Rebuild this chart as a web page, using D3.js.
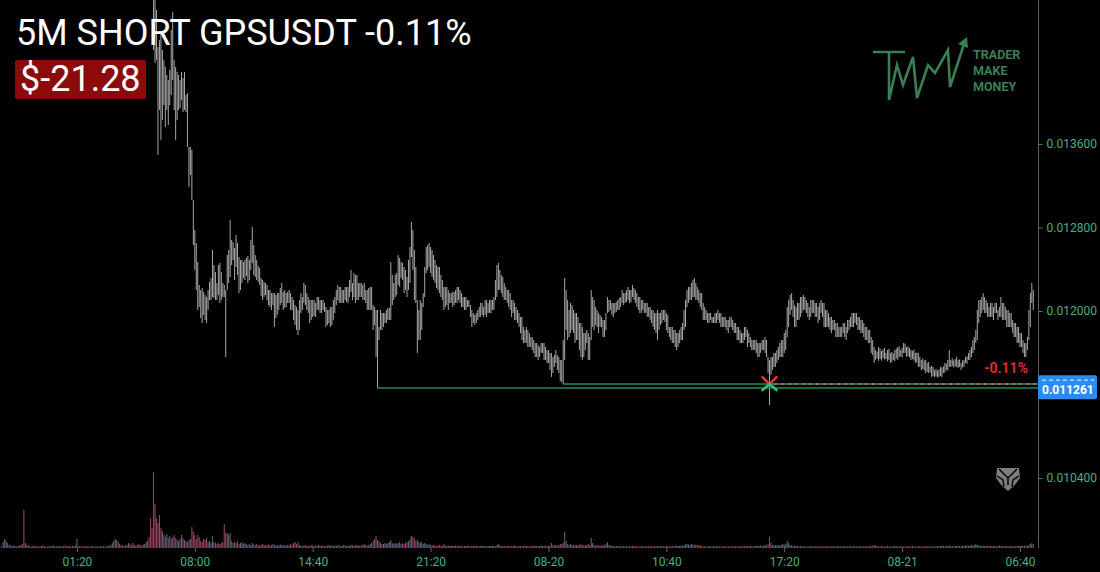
<!DOCTYPE html>
<html>
<head>
<meta charset="utf-8">
<script src="https://cdn.jsdelivr.net/npm/d3@7"></script>
<style>
  html, body { margin: 0; padding: 0; background: #000; overflow: hidden; }
  svg { display: block; font-family: Roboto, "Open Sans", sans-serif; }
</style>
</head>
<body>
<svg id="chart" width="1100" height="572"></svg>
<script>
const W = 1100, H = 572;
const PLOT_RIGHT = 1038;
const VOL_BASE = 548;

const titleText = "5M SHORT GPSUSDT -0.11%";
const pnlText = "$-21.28";
const pnlPctText = "-0.11%";

// right price axis
const priceTicks = [0.0104, 0.012, 0.0128, 0.0136];
// time axis: bar index of each label (5 minute bars)
const timeTicks = [51, 131, 211, 291, 371, 451, 531, 611, 691];
const timeLabels = ["01:20", "08:00", "14:40", "21:20", "08-20", "10:40", "17:20", "08-21", "06:40"];

// price values are in 1e-6 USDT, bars before PRICE_START sit above the visible range
const PRICE_UNIT = 1e-6;
const PRICE_START = 103;

const high = [
  15267, 15075, 14884, 14529, 14596, 14663, 14500, 14405, 14338, 14261, // 103
  14213, 14309, 14692, 14864, 14405, 14338, 14290, 14261, 14213, 14290, // 113
  14232, 14290, 14069, 14088, 13571, 13571, 13542, 13063, 12776, 12651, // 123
  12469, 12249, 12201, 12220, 12182, 12153, 12134, 12201, 12278, 12316, // 133
  12584, 12441, 12374, 12268, 12441, 12460, 12374, 12268, 12249, 12201, // 143
  12536, 12584, 12872, 12680, 12661, 12604, 12728, 12651, 12517, 12489, // 153
  12489, 12469, 12489, 12508, 12527, 12489, 12680, 12805, 12632, 12536, // 163
  12489, 12431, 12412, 12316, 12297, 12278, 12268, 12249, 12201, 12201, // 173
  12172, 12172, 12172, 12153, 12172, 12172, 12220, 12268, 12182, 12201, // 183
  12172, 12182, 12201, 12172, 12134, 12105, 12057, 12038, 12010, 12105, // 193
  12172, 12134, 12268, 12249, 12172, 12134, 12105, 12105, 12105, 12105, // 203
  12077, 12134, 12134, 12105, 12105, 12105, 12077, 12038, 12010, 12010, // 213
  12038, 12038, 12105, 12134, 12201, 12249, 12230, 12230, 12201, 12201, // 223
  12230, 12230, 12230, 12297, 12393, 12268, 12364, 12345, 12345, 12268, // 233
  12268, 12268, 12249, 12268, 12201, 12201, 12220, 12230, 12230, 12057, // 243
  12038, 12010, 12010, 11847, 12010, 11981, 11981, 11981, 12010, 12029, // 253
  12029, 12469, 12345, 12268, 12345, 12364, 12536, 12508, 12469, 12460, // 263
  12422, 12393, 12326, 12489, 12613, 12853, 12776, 12584, 12422, 12105, // 273
  12010, 12105, 12077, 12172, 12422, 12613, 12632, 12651, 12613, 12584, // 283
  12536, 12489, 12441, 12422, 12422, 12345, 12297, 12230, 12230, 12230, // 293
  12201, 12172, 12172, 12182, 12182, 12201, 12230, 12230, 12201, 12172, // 303
  12134, 12134, 12134, 12105, 12105, 12057, 12010, 11981, 11962, 11981, // 313
  12010, 12038, 12077, 12077, 12038, 12105, 12105, 12077, 12105, 12105, // 323
  12105, 12134, 12297, 12441, 12460, 12393, 12345, 12326, 12268, 12230, // 333
  12201, 12201, 12172, 12105, 12105, 12077, 12038, 12010, 11981, 11943, // 343
  11943, 11847, 11818, 11847, 11818, 11789, 11751, 11751, 11722, 11693, // 353
  11693, 11674, 11655, 11693, 11693, 11693, 11655, 11626, 11626, 11598, // 363
  11598, 11559, 11578, 11626, 11578, 11559, 11531, 11531, 11722, 12316, // 373
  12201, 12105, 12010, 12077, 12057, 12010, 11981, 11981, 11943, 11885, // 383
  11885, 11847, 11789, 11789, 11818, 11789, 11751, 12201, 12134, 12105, // 393
  12038, 12010, 11981, 11962, 11943, 11914, 11914, 11981, 12134, 12105, // 403
  12105, 12077, 12077, 12077, 12086, 12105, 12125, 12134, 12201, 12172, // 413
  12172, 12201, 12230, 12201, 12201, 12249, 12220, 12201, 12172, 12134, // 423
  12134, 12105, 12105, 12077, 12077, 12077, 12038, 12038, 12010, 12010, // 433
  11981, 11981, 12010, 11981, 11981, 12010, 12010, 12010, 11981, 11962, // 443
  11847, 11847, 11847, 11818, 11818, 11789, 11789, 11818, 11847, 11885, // 453
  12010, 12105, 12201, 12230, 12230, 12268, 12297, 12316, 12268, 12230, // 463
  12201, 12172, 12172, 12077, 12038, 12010, 11981, 11981, 11981, 11943, // 473
  11943, 11981, 11981, 12010, 11981, 11981, 11943, 11943, 11943, 11914, // 483
  11914, 11943, 11943, 11914, 11885, 11885, 11847, 11847, 11818, 11789, // 493
  11789, 11847, 11847, 11818, 11789, 11751, 11722, 11722, 11722, 11722, // 503
  11693, 11693, 11693, 11722, 11722, 11751, 11722, 11559, 11531, 11559, // 513
  11559, 11598, 11598, 11626, 11655, 11693, 11722, 11722, 11789, 11818, // 523
  12038, 12105, 12153, 12172, 12105, 12057, 12038, 12077, 12077, 12134, // 533
  12134, 12153, 12134, 12105, 12077, 12038, 12105, 12105, 12105, 12077, // 543
  12077, 12038, 12077, 12105, 12077, 12077, 12010, 12010, 11981, 11943, // 553
  11943, 11914, 11914, 11885, 11885, 11847, 11847, 11847, 11885, 11885, // 563
  11847, 11914, 11914, 11943, 11981, 11981, 11981, 11981, 11943, 11943, // 573
  11914, 11914, 11885, 11847, 11847, 11818, 11818, 11751, 11722, 11655, // 583
  11626, 11612, 11655, 11640, 11617, 11631, 11645, 11598, 11626, 11636, // 593
  11598, 11607, 11593, 11626, 11640, 11655, 11660, 11626, 11650, 11693, // 603
  11688, 11655, 11660, 11645, 11626, 11617, 11631, 11598, 11603, 11598, // 613
  11559, 11531, 11545, 11526, 11531, 11502, 11512, 11464, 11474, 11464, // 623
  11435, 11445, 11430, 11440, 11464, 11459, 11469, 11502, 11498, 11531, // 633
  11626, 11531, 11545, 11526, 11540, 11559, 11531, 11536, 11502, 11526, // 643
  11531, 11559, 11564, 11598, 11626, 11655, 11722, 11751, 11818, 12010, // 653
  12105, 12105, 12134, 12172, 12134, 12105, 12077, 12038, 12077, 12077, // 663
  12038, 12077, 12077, 12010, 12038, 12134, 12077, 12077, 12038, 12010, // 673
  12010, 11981, 11981, 11914, 11885, 11885, 11847, 11847, 11789, 11789, // 683
  11722, 11693, 11693, 11751, 12010, 12172, 12268, 12201                // 693
];

const low = [
  14500, 14376, 14405, 13494, 13926, 13638, 13830, 13973, 13763, 13926, // 103
  13782, 13973, 14069, 14213, 13926, 13638, 13830, 13926, 13945, 14021, // 113
  13906, 13926, 13906, 13571, 13188, 13303, 13063, 12632, 12393, 12201, // 123
  12010, 12038, 11933, 11885, 11962, 11914, 11885, 12010, 12105, 12105, // 133
  12134, 12125, 12105, 12105, 12153, 12077, 12105, 12134, 12134, 11559, // 143
  12201, 12268, 12326, 12441, 12489, 12297, 12422, 12345, 12172, 12201, // 153
  12268, 12316, 12297, 12335, 12268, 12297, 12393, 12460, 12345, 12326, // 163
  12297, 12278, 12249, 12144, 12105, 12134, 12153, 12105, 12057, 12038, // 173
  12010, 12057, 11847, 11933, 11962, 12010, 12057, 12077, 12010, 12029, // 183
  12038, 12077, 12077, 12010, 12010, 11914, 11866, 11818, 11770, 11818, // 193
  11981, 12010, 12077, 12057, 12010, 11981, 11885, 11914, 11943, 11952, // 203
  11943, 12010, 12010, 11981, 11981, 12010, 11990, 11847, 11866, 11885, // 213
  11847, 11866, 11914, 11981, 12057, 12105, 12077, 12077, 12077, 12077, // 223
  12105, 12086, 12077, 12134, 12182, 12105, 12134, 12077, 12105, 12105, // 233
  12134, 12134, 12105, 12105, 12077, 12010, 12010, 12010, 12010, 11818, // 243
  11866, 11559, 11262, 11722, 11818, 11818, 11847, 11885, 11885, 11914, // 253
  11914, 11914, 12057, 12105, 12134, 12153, 12249, 12230, 12316, 12297, // 263
  12172, 12201, 12134, 12201, 12268, 12517, 12393, 12105, 12077, 11598, // 273
  11722, 11722, 11818, 12038, 12134, 12364, 12393, 12422, 12364, 12326, // 283
  12297, 12268, 12220, 12201, 12172, 12134, 12105, 12010, 12038, 12057, // 293
  12010, 12077, 12077, 12038, 12057, 12077, 12077, 12105, 12077, 12038, // 303
  12038, 12010, 12010, 12038, 12038, 11943, 11847, 11885, 11866, 11885, // 313
  11914, 11943, 11943, 11962, 11943, 11962, 11943, 11981, 11981, 11981, // 323
  12010, 12010, 12105, 12134, 12201, 12201, 12172, 12134, 12105, 12105, // 333
  12077, 12038, 12010, 11943, 11981, 11914, 11914, 11885, 11847, 11789, // 343
  11722, 11693, 11693, 11693, 11655, 11655, 11655, 11626, 11598, 11559, // 353
  11559, 11531, 11559, 11598, 11598, 11531, 11531, 11502, 11502, 11435, // 363
  11368, 11406, 11464, 11502, 11435, 11406, 11330, 11315, 11300, 11531, // 373
  11818, 11722, 11751, 11789, 11818, 11789, 11693, 11722, 11722, 11626, // 383
  11559, 11531, 11559, 11626, 11693, 11531, 11531, 11722, 11847, 11818, // 393
  11866, 11847, 11789, 11847, 11847, 11751, 11751, 11818, 11981, 11990, // 403
  12010, 11962, 11943, 11981, 11990, 12010, 12010, 12038, 12077, 12057, // 413
  12077, 12086, 12105, 12077, 12086, 12134, 12105, 12077, 12038, 12010, // 423
  11981, 11981, 12010, 11981, 11981, 11943, 11943, 11914, 11885, 11847, // 433
  11818, 11789, 11722, 11818, 11866, 11885, 11914, 11895, 11818, 11789, // 443
  11751, 11722, 11693, 11693, 11655, 11626, 11655, 11693, 11722, 11722, // 453
  11818, 11847, 12038, 12077, 12105, 12105, 12134, 12134, 12105, 12105, // 463
  12077, 12038, 12010, 11914, 11914, 11914, 11885, 11885, 11914, 11885, // 473
  11885, 11885, 11885, 11914, 11885, 11847, 11847, 11847, 11847, 11818, // 483
  11789, 11847, 11847, 11818, 11789, 11789, 11722, 11722, 11693, 11693, // 493
  11693, 11722, 11751, 11655, 11693, 11655, 11626, 11626, 11626, 11598, // 503
  11559, 11559, 11598, 11626, 11626, 11598, 11559, 11406, 11100, 11387, // 513
  11435, 11464, 11464, 11502, 11531, 11559, 11559, 11559, 11598, 11626, // 523
  11751, 11847, 11962, 12010, 11943, 11847, 11847, 11914, 11914, 11943, // 533
  11981, 12010, 12010, 11981, 11943, 11914, 11943, 11981, 11981, 11943, // 543
  11943, 11885, 11914, 11981, 11943, 11847, 11847, 11847, 11847, 11818, // 553
  11789, 11818, 11818, 11751, 11751, 11751, 11751, 11751, 11789, 11751, // 563
  11722, 11789, 11818, 11847, 11847, 11847, 11885, 11866, 11818, 11818, // 573
  11789, 11789, 11751, 11722, 11722, 11693, 11693, 11598, 11578, 11502, // 583
  11531, 11545, 11521, 11540, 11526, 11550, 11535, 11540, 11517, 11531, // 593
  11502, 11512, 11531, 11521, 11545, 11531, 11559, 11564, 11555, 11598, // 603
  11598, 11559, 11569, 11555, 11531, 11540, 11526, 11502, 11507, 11464, // 613
  11464, 11435, 11445, 11430, 11406, 11416, 11406, 11411, 11368, 11378, // 623
  11368, 11373, 11363, 11368, 11378, 11368, 11406, 11411, 11435, 11430, // 633
  11464, 11464, 11474, 11459, 11469, 11464, 11455, 11464, 11435, 11459, // 643
  11464, 11502, 11493, 11531, 11531, 11559, 11598, 11626, 11693, 11722, // 653
  11885, 11943, 11981, 12010, 11981, 11981, 11943, 11943, 11943, 11943, // 663
  11914, 11981, 11981, 11914, 11943, 11943, 11914, 11914, 11914, 11847, // 673
  11847, 11847, 11847, 11789, 11751, 11751, 11693, 11693, 11655, 11655, // 683
  11598, 11559, 11559, 11626, 11722, 11847, 12077, 12010                // 693
];

// volume per bar, index 0 .. 700
const volume = [
  4, 12, 18, 14, 10, 6, 5, 4, 5, 4, 3, 4, 5, 6, 8,
  76, 10, 6, 5,
  4, 3, 4, 5, 3, 4, 3, 3, 4, 5, 4, 3, 3, 4, 3, 4, 5, 3, 4, 3, 4, 3, 3, 4, 5, 4, 3, 4, 3, 4, 4, 5,
  18,
  3, 4, 3, 3, 4, 3, 4, 3, 3, 4, 3, 3, 4, 3, 3, 4, 3, 4, 3, 3, 5, 4, 6, 10,
  14, 18, 16, 12, 8, 6, 5,
  4, 5, 6, 10, 8, 6, 10, 7, 5, 6, 8, 6, 5, 7, 8, 12, 16, 22,
  60, 40, 152, 88, 60, 50, 66, 40, 34, 26,
  22, 28, 20, 24, 18, 22, 26, 20, 16, 14,
  18, 26, 20, 16, 14, 12, 16, 18, 42, 34,
  26, 18, 26, 22, 14, 12, 18, 16, 20, 12,
  14, 10, 24, 12, 10, 8, 10, 8, 10, 12,
  48, 30, 30, 26, 30, 14, 10, 12, 10, 14,
  8, 10, 12, 8, 10, 8,
  6, 8, 6, 10, 7, 6, 8, 6, 5, 6, 8, 6, 5, 6, 7, 5, 6, 8, 6, 5, 6, 5, 7, 6,
  5, 6, 5, 6, 5, 8, 6, 10, 12, 8,
  12,
  6, 5, 4, 5, 6, 4, 5, 4, 6, 5, 4, 5, 4, 6, 5, 4, 5, 4, 4, 5,
  6, 4, 5, 4, 5, 4, 6, 5, 4, 5, 6, 5, 4, 5, 4, 6, 5, 4, 5, 6,
  5, 4, 5, 6, 8, 6, 5, 6, 8,
  10, 14, 18, 24, 16, 14, 10, 8, 8, 10, 8, 10, 12, 16, 10, 8, 10, 8, 10, 12,
  8, 10, 8, 10, 12, 14, 18, 24, 22, 20, 14, 16, 12, 10, 12, 8, 10, 8, 6, 8,
  6, 5, 6, 5, 4, 5, 6, 5, 4, 8, 5, 4, 5, 4, 5, 4, 4, 5, 4, 4,
  5, 4, 3, 4, 4, 5, 4, 3, 4, 4, 5, 4, 4, 3, 4, 5, 4, 4, 3, 4,
  4, 5, 4, 4, 3,
  6, 8, 5, 4, 4,
  4, 3, 4, 4, 3, 4, 4, 5, 4, 3, 4, 4, 3, 4, 5, 4, 4, 3, 4, 4,
  5, 4, 4, 3, 4, 5, 4, 4, 5, 4, 4, 5,
  10, 6, 5, 6, 5, 6, 8, 8, 10, 32, 14, 8, 6, 8, 6, 5, 6, 6, 5, 6,
  8, 6, 6, 5, 6, 8, 6, 20, 10, 6, 5, 6, 5, 4, 5, 6, 5, 8, 12, 6,
  5,
  4, 4, 3, 4, 4, 3, 4, 3, 4, 4, 3, 3, 4, 3, 4, 4, 3, 4, 3, 3,
  4, 4, 3, 4, 3, 4, 4, 3, 3, 4, 3, 4, 4, 3, 4, 3, 3, 4, 4, 3,
  4, 3, 4, 4, 5, 4, 4, 5, 4, 6,
  7, 8, 7, 6, 8, 7, 6, 7, 6, 5, 6,
  4, 3, 4, 3, 3, 4, 3, 3, 4, 3, 3, 4, 3, 3, 3, 4, 3, 3, 4, 3,
  3, 4, 3, 4, 3, 3, 4, 3, 4, 3, 4, 4, 3, 4, 4, 3, 4, 5, 4, 4,
  5, 4, 5, 6, 5,
  8, 22, 10, 6, 5, 6, 5, 6, 5, 6, 8, 6, 8, 14, 10, 6, 5, 4, 5, 4, 4,
  3, 4, 3, 3, 4, 3, 3, 3, 4, 3, 3, 4, 3, 3, 3, 4, 3, 3, 3, 4,
  3, 3, 3, 4, 3, 3, 4, 3, 3, 3, 4, 3, 3, 3, 4, 3, 3, 4, 3, 3,
  3, 4, 3, 3, 4, 3, 4, 3, 4, 5,
  5, 6, 5, 4,
  3, 3, 4, 3, 3, 3, 4, 3, 3, 3, 3, 4, 3, 3, 3, 4, 3, 3, 3, 3,
  4, 3, 3, 4, 3, 3, 3, 4, 3, 3, 3, 4, 3, 4, 3, 3, 4, 3, 3, 4,
  4, 3, 4, 5, 4, 3, 4, 4, 5, 4, 4, 3, 4, 4, 5, 4, 4, 5, 4, 5,
  5, 4, 5, 6, 5, 6,
  8, 6, 5, 5, 4, 5, 4, 4, 5, 4, 4, 3, 4, 4, 3, 4, 5, 4, 4, 3,
  4, 4, 3, 4, 4, 3, 4, 3, 4, 4, 5, 4, 4, 5, 4, 5, 6, 8, 10, 8
];

// candle direction for the bars that have no visible price (d = down, u = up)
const earlyDir = [
  "uuuududduu", "dduuddduud", "uddudduudu", "dduududduu", "duudduudud",
  "uuddudduud", "duuddudduu", "dduuuuduud", "uduuddudud", "duddudduud", "dddd"
].join("");

const supportLevel = { bar: 255, price: 0.011262 };
const entryLevel = { bar: 381, price: 0.0113 };
const entryBar = 521;
const markPrice = 0.011261;

// ---------------------------------------------------------------

const svg = d3.select("#chart");
svg.append("rect").attr("width", W).attr("height", H).attr("fill", "#000");

const x = d3.scaleLinear().domain([-1.2, 703.2]).range([0, PLOT_RIGHT]);
const y = d3.scaleLinear().domain([0.0104, 0.0136]).range([478, 144]);
const yVol = d3.scaleLinear().domain([0, 160]).range([VOL_BASE, 468]);

const bars = high.map((h, k) => ({
  i: PRICE_START + k,
  high: h * PRICE_UNIT,
  low: low[k] * PRICE_UNIT
}));

function isDown(i) {
  if (i <= PRICE_START) return earlyDir[i] === "d";
  const k = i - PRICE_START;
  return high[k] + low[k] < high[k - 1] + low[k - 1];
}

// volume
svg.append("g")
  .selectAll("rect")
  .data(volume)
  .join("rect")
  .attr("x", (v, i) => x(i) - 0.55)
  .attr("width", 1.1)
  .attr("y", v => yVol(v))
  .attr("height", v => VOL_BASE - yVol(v))
  .attr("fill", (v, i) => isDown(i) ? "#93405a" : "#56657a");

// price bars
svg.append("g")
  .selectAll("line")
  .data(bars)
  .join("line")
  .attr("x1", d => x(d.i))
  .attr("x2", d => x(d.i))
  .attr("y1", d => y(d.high))
  .attr("y2", d => y(d.low))
  .attr("stroke", "#a8a8a8")
  .attr("stroke-width", 1);

// level lines
const levels = svg.append("g");
levels.append("line")
  .attr("x1", x(supportLevel.bar)).attr("x2", PLOT_RIGHT)
  .attr("y1", y(supportLevel.price)).attr("y2", y(supportLevel.price))
  .attr("stroke", "#238a61").attr("stroke-width", 1.6);
levels.append("line")
  .attr("x1", x(entryLevel.bar)).attr("x2", PLOT_RIGHT)
  .attr("y1", y(entryLevel.price)).attr("y2", y(entryLevel.price))
  .attr("stroke", "#238a61").attr("stroke-width", 1.6);
levels.append("line")
  .attr("x1", x(entryBar) + 4).attr("x2", PLOT_RIGHT)
  .attr("y1", y(entryLevel.price)).attr("y2", y(entryLevel.price))
  .attr("stroke", "#c0705a").attr("stroke-width", 1.6)
  .attr("stroke-dasharray", "4,3");

// entry marker
const mx = x(entryBar), my = y(entryLevel.price);
const mk = svg.append("g").attr("fill", "none").attr("stroke-width", 2.6).attr("stroke-linecap", "round");
mk.append("path")
  .attr("d", `M${mx - 7},${my - 7}L${mx},${my}L${mx + 7},${my - 7}`)
  .attr("stroke", "#e3342f");
mk.append("path")
  .attr("d", `M${mx - 7},${my + 6}L${mx},${my}L${mx + 7},${my + 6}`)
  .attr("stroke", "#2fc46c");

svg.append("text")
  .attr("x", 1028).attr("y", my - 11)
  .attr("text-anchor", "end")
  .attr("font-size", 14).attr("font-weight", 700)
  .attr("fill", "#d92f2f")
  .text(pnlPctText);

// axes
const axisColor = "#44b07e";

svg.append("line")
  .attr("x1", PLOT_RIGHT + 0.5).attr("x2", PLOT_RIGHT + 0.5)
  .attr("y1", 0).attr("y2", VOL_BASE)
  .attr("stroke", "#5e5e5e");

const yAxis = svg.append("g")
  .attr("transform", `translate(${PLOT_RIGHT + 0.5},0)`)
  .call(d3.axisRight(y).tickValues(priceTicks).tickFormat(d3.format(".6f")).tickSize(4).tickPadding(4));

const xAxis = svg.append("g")
  .attr("transform", `translate(0,${VOL_BASE})`)
  .call(d3.axisBottom(x).tickValues(timeTicks).tickFormat((d, k) => timeLabels[k]).tickSize(4).tickPadding(5));

[yAxis, xAxis].forEach(g => {
  g.select(".domain").remove();
  g.selectAll(".tick line").attr("stroke", "#666");
  g.selectAll(".tick text")
    .attr("fill", axisColor)
    .attr("font-size", 12)
    .attr("font-family", "Roboto, sans-serif");
});

// mark price label
const my2 = y(markPrice);
const lbl = svg.append("g");
lbl.append("rect")
  .attr("x", PLOT_RIGHT).attr("y", my2 - 13)
  .attr("width", 59).attr("height", 24).attr("rx", 2)
  .attr("fill", "#2a8bf2");
lbl.append("line")
  .attr("x1", PLOT_RIGHT + 4).attr("x2", PLOT_RIGHT + 56)
  .attr("y1", my2 - 8).attr("y2", my2 - 8)
  .attr("stroke", "#fff").attr("stroke-width", 1)
  .attr("stroke-dasharray", "4,3");
lbl.append("text")
  .attr("x", PLOT_RIGHT + 4).attr("y", my2 + 6)
  .attr("font-size", 12).attr("font-weight", 700)
  .attr("fill", "#fff")
  .text(d3.format(".6f")(markPrice));

// title block
svg.append("text")
  .attr("x", 16).attr("y", 45)
  .attr("font-size", 36).attr("fill", "#fff")
  .text(titleText);
svg.append("rect")
  .attr("x", 15).attr("y", 60).attr("width", 131).attr("height", 39).attr("rx", 2)
  .attr("fill", "#8c0a0a");
svg.append("text")
  .attr("x", 20).attr("y", 91)
  .attr("font-size", 36).attr("fill", "#fff")
  .text(pnlText);

// TMM logo
const logoColor = "#3a7f51";
const logo = svg.append("g");
logo.append("path")
  .attr("d", "M873,52H905M889,52L889,100L897,65L903,85L913,57L917,98L928,65L935,73L948,50L950,87L964,44")
  .attr("fill", "none").attr("stroke", logoColor).attr("stroke-width", 2.6)
  .attr("stroke-linejoin", "miter");
logo.append("path")
  .attr("d", "M967,37L958,44L968,48Z")
  .attr("fill", logoColor);
["TRADER", "MAKE", "MONEY"].forEach((t, k) => {
  logo.append("text")
    .attr("x", 973).attr("y", 59 + k * 16)
    .attr("font-size", 12.5).attr("font-weight", 700)
    .attr("fill", logoColor)
    .text(t);
});

// small grey emblem
const em = svg.append("g");
em.append("path")
  .attr("d", "M997,468L1019,468L1020,478L1014,486L1008,491L1002,486L996,478Z")
  .attr("fill", "#7c7c7c");
em.append("path")
  .attr("d", "M999,469L1008,478L1017,469M1008,478L1008,485M997,476L1003,480L1004,487M1019,476L1013,480L1012,487")
  .attr("fill", "none").attr("stroke", "#000").attr("stroke-width", 1.4);
</script>
</body>
</html>
